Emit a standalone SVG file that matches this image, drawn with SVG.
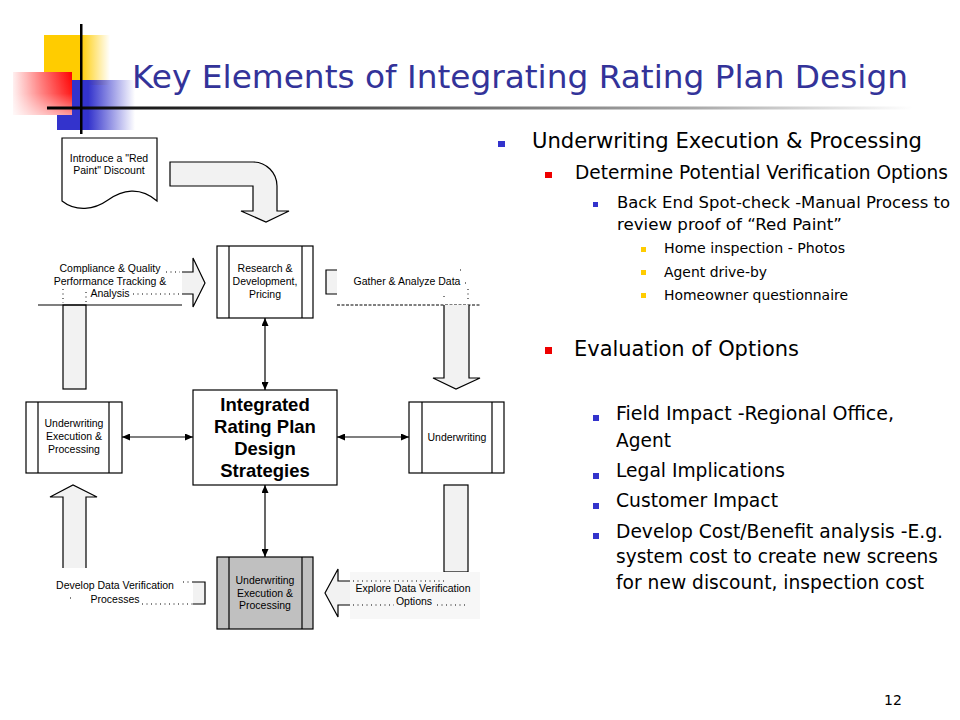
<svg xmlns="http://www.w3.org/2000/svg" width="960" height="720" viewBox="0 0 960 720">
<style>
.box{fill:#fff;stroke:#000;stroke-width:1.2}
.gbox{fill:#c0c0c0;stroke:#000;stroke-width:1.2}
.in{stroke:#000;stroke-width:1.2}
.lbl{font-family:"Liberation Sans",Arial,sans-serif;font-size:10.5px;fill:#000;text-anchor:middle}
.big{font-family:"Liberation Sans",Arial,sans-serif;font-size:18.5px;font-weight:bold;fill:#000;text-anchor:middle}
.blk{fill:#f2f2f2;stroke:#000;stroke-width:1.2}
.ln{fill:none;stroke:#000;stroke-width:1.2}
.dot{fill:none;stroke:#000;stroke-width:1;stroke-dasharray:1 3.5}
.dash{fill:none;stroke:#000;stroke-width:1;stroke-dasharray:3 1.5}
.con{fill:none;stroke:#000;stroke-width:1.2;marker-start:url(#ah);marker-end:url(#ah)}
.t{font-family:"DejaVu Sans",Verdana,sans-serif;fill:#000}
.t1{font-size:21px}
.t2{font-size:19px}
.t3{font-size:16px}
.t4{font-size:14px}
.t5{font-size:19px}
</style>
<defs>
<marker id="ah" markerUnits="userSpaceOnUse" markerWidth="9" markerHeight="7" refX="8" refY="3.5" orient="auto-start-reverse">
<path d="M0,0 L8,3.5 L0,7 z" fill="#000"/>
</marker>
<linearGradient id="gy" x1="0" y1="0" x2="1" y2="0">
<stop offset="0" stop-color="#ffcc00"/><stop offset="0.55" stop-color="#ffcc00"/><stop offset="1" stop-color="#ffcc00" stop-opacity="0"/>
</linearGradient>
<linearGradient id="gb" x1="0" y1="0" x2="1" y2="0">
<stop offset="0" stop-color="#3333cc"/><stop offset="0.4" stop-color="#3333cc"/><stop offset="1" stop-color="#3333cc" stop-opacity="0"/>
</linearGradient>
<linearGradient id="gr" x1="1" y1="0" x2="0" y2="0">
<stop offset="0" stop-color="#ff0000"/><stop offset="0.5" stop-color="#ff0000" stop-opacity="0.55"/><stop offset="1" stop-color="#ff0000" stop-opacity="0.06"/>
</linearGradient>
<linearGradient id="grv" x1="0" y1="0" x2="0" y2="1">
<stop offset="0" stop-color="#fff" stop-opacity="0"/><stop offset="0.5" stop-color="#fff" stop-opacity="0.1"/><stop offset="1" stop-color="#fff" stop-opacity="0.6"/>
</linearGradient>
<linearGradient id="gl" x1="0" y1="0" x2="1" y2="0">
<stop offset="0" stop-color="#000"/><stop offset="0.3" stop-color="#444"/><stop offset="0.75" stop-color="#aaa"/><stop offset="1" stop-color="#fff"/>
</linearGradient>
</defs>
<rect width="960" height="720" fill="#fff"/>

<g id="decoration">
<rect x="44" y="35" width="66" height="50" fill="url(#gy)"/>
<rect x="57" y="80" width="78" height="50" fill="url(#gb)"/>
<rect x="13" y="72" width="59" height="43" fill="#fff"/>
<rect x="13" y="72" width="59" height="43" fill="url(#gr)"/>
<rect x="13" y="72" width="59" height="43" fill="url(#grv)"/>
<rect x="47" y="106.5" width="866" height="3" fill="url(#gl)"/>
<rect x="80" y="24" width="2.5" height="110" fill="#000"/>
</g>

<g id="title">
<text x="132" y="88" font-family="DejaVu Sans,Verdana,sans-serif" font-size="32" fill="#333399" textLength="776" lengthAdjust="spacingAndGlyphs">Key Elements of Integrating Rating Plan Design</text>
</g>

<g id="connectors">
<line class="con" x1="265" y1="318" x2="265" y2="390"/>
<line class="con" x1="265" y1="485" x2="265" y2="557"/>
<line class="con" x1="122" y1="437" x2="193" y2="437"/>
<line class="con" x1="337" y1="437" x2="409" y2="437"/>
<path class="blk" d="M170,162 H253 A24,24 0 0 1 277,186 V211 H289 L266,222 L241,211 H253 V186 H170 Z"/>
<rect class="blk" x="63" y="305" width="23" height="84"/>
<line class="ln" x1="38" y1="305" x2="182" y2="305"/>
<path class="blk" d="M182,272 H193 V258 L205,283 L193,307 V294 H182"/>
<path class="blk" d="M337,270 H326 V294 H337"/>
<line class="dash" x1="337" y1="305" x2="480" y2="305"/>
<path class="blk" d="M444,305 V378 H433 L456,389 L480,378 H469 V305"/>
<rect class="blk" x="444" y="485" width="24" height="87"/>
<rect x="350" y="572" width="130" height="47" fill="#f7f7f7"/>
<path class="blk" d="M350,581 H338 V569 L325,593 L338,617 V605 H350"/>
<path class="blk" d="M63,568 V497 H50 L73,485 L97,497 H86 V568"/>
<path class="blk" d="M193,582 H205 V604 H193"/>
</g>

<g id="doc-red-paint">
<path class="box" d="M62,138 H157 V201 C140,186 122,190 108,200 C94,210 76,212 62,201 Z"/>
<text class="lbl" x="109" y="162">Introduce a "Red</text>
<text class="lbl" x="109" y="174">Paint" Discount</text>
</g>

<g id="node-rnd">
<rect class="box" x="217" y="246" width="96" height="72"/>
<line class="in" x1="229" y1="246" x2="229" y2="318"/>
<line class="in" x1="302" y1="246" x2="302" y2="318"/>
<text class="lbl" x="265" y="272">Research &amp;</text>
<text class="lbl" x="265" y="285">Development,</text>
<text class="lbl" x="265" y="298">Pricing</text>
</g>

<g id="node-center">
<rect class="box" x="193" y="390" width="144" height="95"/>
<text class="big" x="265" y="411">Integrated</text>
<text class="big" x="265" y="433">Rating Plan</text>
<text class="big" x="265" y="455">Design</text>
<text class="big" x="265" y="477">Strategies</text>
</g>

<g id="node-left">
<rect class="box" x="26" y="402" width="96" height="71"/>
<line class="in" x1="38" y1="402" x2="38" y2="473"/>
<line class="in" x1="109" y1="402" x2="109" y2="473"/>
<text class="lbl" x="74" y="427">Underwriting</text>
<text class="lbl" x="74" y="440">Execution &amp;</text>
<text class="lbl" x="74" y="453">Processing</text>
</g>

<g id="node-right">
<rect class="box" x="409" y="402" width="95" height="71"/>
<line class="in" x1="422" y1="402" x2="422" y2="473"/>
<line class="in" x1="492" y1="402" x2="492" y2="473"/>
<text class="lbl" x="457" y="441">Underwriting</text>
</g>

<g id="node-bottom">
<rect class="gbox" x="217" y="557" width="96" height="72"/>
<line class="in" x1="229" y1="557" x2="229" y2="629"/>
<line class="in" x1="302" y1="557" x2="302" y2="629"/>
<text class="lbl" x="265" y="584">Underwriting</text>
<text class="lbl" x="265" y="597">Execution &amp;</text>
<text class="lbl" x="265" y="609">Processing</text>
</g>

<g id="label-compliance">
<text class="lbl" x="110" y="272">Compliance &amp; Quality</text>
<text class="lbl" x="110" y="285">Performance Tracking &amp;</text>
<text class="lbl" x="110" y="297">Analysis</text>
<line class="dot" x1="166" y1="272" x2="180" y2="272"/>
<line class="dot" x1="133" y1="294" x2="182" y2="294"/>
<line class="dot" x1="63" y1="289" x2="63" y2="303"/>
<line class="dot" x1="86" y1="292" x2="86" y2="303"/>
</g>

<g id="label-gather">
<text class="lbl" x="407" y="285">Gather &amp; Analyze Data</text>
<line class="dot" x1="465" y1="283" x2="467" y2="283"/>
<line class="dot" x1="468" y1="289" x2="468" y2="300"/>
<line class="dot" x1="444" y1="296" x2="444" y2="300"/>
<line class="dot" x1="460" y1="270" x2="461" y2="270"/>
</g>

<g id="label-explore">
<text class="lbl" x="413" y="592">Explore Data Verification</text>
<text class="lbl" x="414" y="605">Options</text>
<line class="dot" x1="353" y1="581" x2="445" y2="581"/>
<line class="dot" x1="353" y1="605" x2="394" y2="605"/>
<line class="dot" x1="437" y1="605" x2="465" y2="605"/>
</g>

<g id="label-develop">
<text class="lbl" x="115" y="589">Develop Data Verification</text>
<text class="lbl" x="115" y="603">Processes</text>
<line class="dot" x1="183" y1="582" x2="193" y2="582"/>
<line class="dot" x1="142" y1="604" x2="193" y2="604"/>
<line class="dot" x1="70" y1="598" x2="71" y2="598"/>
</g>

<g id="bullets">
<rect x="498" y="141" width="7" height="6" fill="#3333cc"/>
<text class="t t1" x="532" y="148" textLength="390" lengthAdjust="spacingAndGlyphs">Underwriting Execution &amp; Processing</text>
<rect x="545" y="172" width="7" height="6" fill="#ee0000"/>
<text class="t t2" x="575" y="179" textLength="373" lengthAdjust="spacingAndGlyphs">Determine Potential Verification Options</text>
<rect x="593" y="202" width="5" height="5" fill="#3333cc"/>
<text class="t t3" x="617" y="208" textLength="333" lengthAdjust="spacingAndGlyphs">Back End Spot-check -Manual Process to</text>
<text class="t t3" x="617" y="230" textLength="225" lengthAdjust="spacingAndGlyphs">review proof of “Red Paint”</text>
<rect x="641" y="247" width="5" height="5" fill="#ffcc00"/>
<text class="t t4" x="664" y="253" textLength="181" lengthAdjust="spacingAndGlyphs">Home inspection - Photos</text>
<rect x="641" y="270" width="5" height="5" fill="#ffcc00"/>
<text class="t t4" x="664" y="277" textLength="103" lengthAdjust="spacingAndGlyphs">Agent drive-by</text>
<rect x="641" y="293" width="5" height="5" fill="#ffcc00"/>
<text class="t t4" x="664" y="300" textLength="184" lengthAdjust="spacingAndGlyphs">Homeowner questionnaire</text>
<rect x="545" y="347" width="7" height="7" fill="#ee0000"/>
<text class="t t1" x="574" y="356" font-size="22" textLength="225" lengthAdjust="spacingAndGlyphs">Evaluation of Options</text>
<rect x="593" y="415" width="6" height="6" fill="#3333cc"/>
<text class="t t5" x="616" y="420" textLength="278" lengthAdjust="spacingAndGlyphs">Field Impact -Regional Office,</text>
<text class="t t5" x="616" y="447" textLength="55" lengthAdjust="spacingAndGlyphs">Agent</text>
<rect x="593" y="473" width="6" height="6" fill="#3333cc"/>
<text class="t t5" x="616" y="477" textLength="169" lengthAdjust="spacingAndGlyphs">Legal Implications</text>
<rect x="593" y="503" width="6" height="6" fill="#3333cc"/>
<text class="t t5" x="616" y="507" textLength="162" lengthAdjust="spacingAndGlyphs">Customer Impact</text>
<rect x="593" y="533" width="6" height="6" fill="#3333cc"/>
<text class="t t5" x="616" y="538" textLength="327" lengthAdjust="spacingAndGlyphs">Develop Cost/Benefit analysis -E.g.</text>
<text class="t t5" x="616" y="563" textLength="322" lengthAdjust="spacingAndGlyphs">system cost to create new screens</text>
<text class="t t5" x="616" y="589" textLength="308" lengthAdjust="spacingAndGlyphs">for new discount, inspection cost</text>
</g>

<g id="page-number">
<text x="884" y="705" font-family="DejaVu Sans,Verdana,sans-serif" font-size="14" fill="#000">12</text>
</g>
</svg>
